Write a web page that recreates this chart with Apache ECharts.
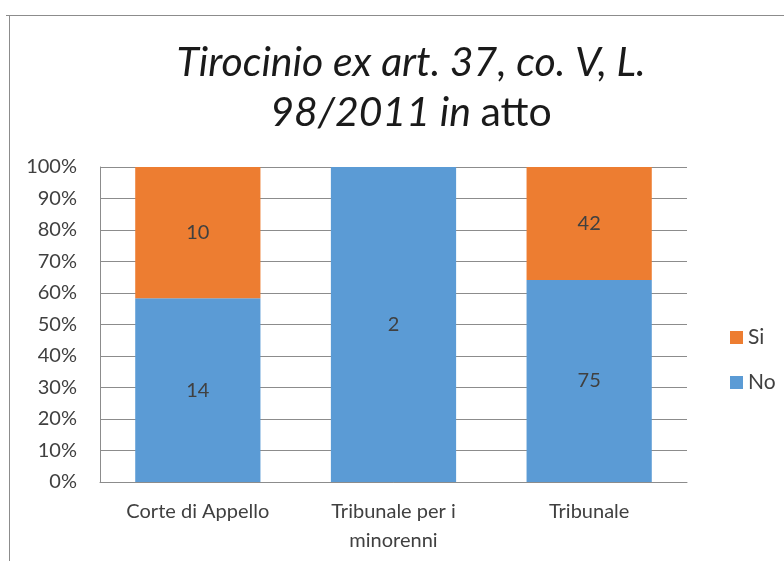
<!DOCTYPE html>
<html>
<head>
<meta charset="utf-8">
<script src="https://cdn.jsdelivr.net/npm/echarts@6/dist/echarts.min.js"></script>
<style>
  html, body { margin: 0; padding: 0; background: #fff; }
  #chart { width: 784px; height: 561px; }
</style>
</head>
<body>
<div id="chart"></div>
<script>
// categorie e valori
const categorie = ['Corte di Appello', 'Tribunale per i\nminorenni', 'Tribunale'];
const valoriNo = [14, 2, 75];
const valoriSi = [10, 0, 42];
const tickY = [0, 10, 20, 30, 40, 50, 60, 70, 80, 90, 100];

// percentuali per la barra in pila al 100%
const totali = valoriNo.map((v, i) => v + valoriSi[i]);
const percNo = valoriNo.map((v, i) => v / totali[i] * 100);
const percSi = valoriSi.map((v, i) => v / totali[i] * 100);

const FONT = 'Lato, "Open Sans", sans-serif';
const TESTO = '#404040';
const FS = 20;

const chart = echarts.init(document.getElementById('chart'));

const etichetta = (raw) => ({
  show: true,
  position: 'inside',
  color: TESTO,
  fontFamily: FONT,
  fontSize: FS,
  formatter: (p) => raw[p.dataIndex] ? String(raw[p.dataIndex]) : ''
});

const option = {
  backgroundColor: '#fff',
  animation: false,
  title: {
    left: 406,
    top: 33,
    textAlign: 'center',
    text: '{i|Tirocinio ex art. 37, co. V, L.}\n{i|98/2011 in }{n|atto}',
    textStyle: {
      fontWeight: 'normal',
      rich: {
        i: { fontFamily: FONT, fontStyle: 'italic', fontWeight: 'normal', fontSize: 41, color: '#1a1a1a', lineHeight: 50 },
        n: { fontFamily: FONT, fontWeight: 'normal', fontSize: 41, color: '#1a1a1a', lineHeight: 50 }
      }
    }
  },
  graphic: [
    { type: 'line', shape: { x1: 6, y1: 15.5, x2: 784, y2: 15.5 }, style: { stroke: '#8c8c8c', lineWidth: 1 } },
    { type: 'line', shape: { x1: 9.5, y1: 15, x2: 9.5, y2: 561 }, style: { stroke: '#8c8c8c', lineWidth: 1 } }
  ],
  legend: {
    orient: 'vertical',
    left: 725,
    top: 322,
    itemWidth: 13,
    itemHeight: 13,
    itemGap: 24,
    icon: 'rect',
    data: ['Si', 'No'],
    textStyle: { fontFamily: FONT, fontSize: 21, color: TESTO }
  },
  grid: { left: 100, right: 97, top: 167, bottom: 79, containLabel: false },
  xAxis: {
    type: 'category',
    data: categorie,
    axisLine: { lineStyle: { color: '#8c8c8c' } },
    axisTick: { show: false },
    axisLabel: { fontFamily: FONT, fontSize: FS, color: TESTO, margin: 15, lineHeight: 29, interval: 0 }
  },
  yAxis: {
    type: 'value',
    min: 0,
    max: 100,
    interval: 10,
    axisLine: { show: true, lineStyle: { color: '#8c8c8c' } },
    axisTick: { show: false },
    splitLine: { lineStyle: { color: '#8c8c8c' } },
    axisLabel: {
      fontFamily: FONT, fontSize: FS, color: TESTO, margin: 23,
      formatter: (v) => tickY.includes(v) ? v + '%' : ''
    }
  },
  series: [
    {
      name: 'No',
      type: 'bar',
      stack: 'tot',
      barWidth: '64%',
      itemStyle: { color: '#5B9BD5' },
      label: etichetta(valoriNo),
      data: percNo
    },
    {
      name: 'Si',
      type: 'bar',
      stack: 'tot',
      barWidth: '64%',
      itemStyle: { color: '#ED7D31' },
      label: etichetta(valoriSi),
      data: percSi
    }
  ]
};

chart.setOption(option);
</script>
</body>
</html>
